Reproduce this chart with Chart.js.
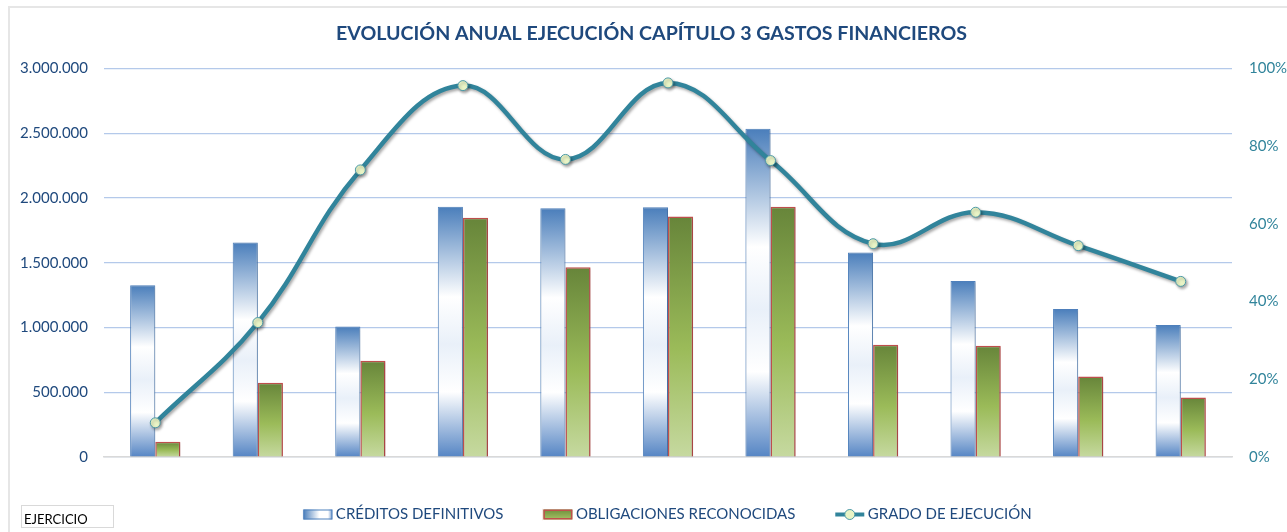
<!DOCTYPE html>
<html lang="es">
<head>
<meta charset="utf-8">
<title>Evolución anual ejecución capítulo 3 gastos financieros</title>
<script src="https://cdn.jsdelivr.net/npm/chart.js@4.4.1/dist/chart.umd.min.js"></script>
<style>
  html, body { margin: 0; padding: 0; background: #fff; }
  #wrap { position: relative; width: 1287px; height: 532px; }
  #frame {
    position: absolute; left: 8px; top: 6px; right: 0; bottom: 0;
    border-left: 2px solid #e6e6e6; border-top: 2px solid #e6e6e6;
    pointer-events: none;
  }
  #ejercicio {
    position: absolute; left: 21px; top: 505px; width: 89px; height: 21px;
    border: 1px solid #d9d9d9; padding-left: 2px;
    font: 13px Lato, "Open Sans", sans-serif; line-height: 26px; color: #000;
  }
</style>
</head>
<body>
<div id="wrap">
  <canvas id="chart"></canvas>
  <div id="frame"></div>
  <div id="ejercicio">EJERCICIO</div>
</div>
<script>
// data
const years = ["2009", "2010", "2011", "2012", "2013", "2014", "2015", "2016", "2017", "2018", "2019"];
const creditosDefinitivos = [1327000, 1657000, 1007000, 1933000, 1920000, 1928000, 2534000, 1580000, 1360000, 1143000, 1020000];
const obligacionesReconocidas = [117000, 573000, 744000, 1847000, 1465000, 1857000, 1933000, 867000, 859000, 621000, 460000];
const gradoEjecucion = [8.8, 34.6, 73.9, 95.6, 76.6, 96.3, 76.3, 54.9, 63.0, 54.4, 45.2];

const importeMax = 3000000;
const importeStep = 500000;
const porcentajeMax = 100;
const porcentajeStep = 20;

const NAVY = "#1f497d";
const TEAL = "#31849b";
const FONT = "Lato, 'Open Sans', sans-serif";
const SWATCH_W = 29;

const blueStops = [[0, "#4a7ebb"], [0.36, "#ffffff"], [0.55, "#e9f0f9"], [0.74, "#ffffff"], [1, "#5585c4"]];
const greenStops = [[0, "#67853a"], [0.55, "#9bbb59"], [1, "#c6d9a0"]];

function barGradient(stops, fallback) {
    return (context) => {
        const chart = context.chart;
        const { chartArea, scales } = chart;
        if (!chartArea || context.type !== "data" || !scales.y) return fallback;
        const top = scales.y.getPixelForValue(context.raw);
        const bottom = scales.y.getPixelForValue(0);
        if (!isFinite(top) || bottom - top < 1) return fallback;
        const g = chart.ctx.createLinearGradient(0, top, 0, bottom);
        stops.forEach(([offset, color]) => g.addColorStop(offset, color));
        return g;
    };
}

function formatMiles(value) {
    return String(value).replace(/\B(?=(\d{3})+(?!\d))/g, ".");
}

// soft shadow under the line, like the spreadsheet original
const lineShadow = {
    id: "lineShadow",
    beforeDatasetDraw(chart, args) {
        const ctx = chart.ctx;
        ctx.save();
        if (args.meta.type === "line") {
            ctx.shadowColor = "rgba(0, 0, 0, 0.35)";
            ctx.shadowBlur = 3;
            ctx.shadowOffsetX = 1.5;
            ctx.shadowOffsetY = 2;
        } else {
            ctx.shadowColor = "rgba(0, 0, 0, 0.18)";
            ctx.shadowBlur = 2;
            ctx.shadowOffsetX = 1;
            ctx.shadowOffsetY = 1;
        }
    },
    afterDatasetDraw(chart) {
        chart.ctx.restore();
    },
};

// title and legend sit a bit right of centre in the original
const nudgeBlocks = {
    id: "nudgeBlocks",
    afterLayout(chart) {
        if (chart.titleBlock) {
            chart.titleBlock.left += 8;
            chart.titleBlock.right += 8;
        }
        if (chart.legend) {
            chart.legend.left += 24;
            chart.legend.right += 24;
        }
    },
};

// legend swatches: gradient boxes and the line marker with its dot
const legendSwatches = {
    id: "legendSwatches",
    afterDraw(chart) {
        const legend = chart.legend;
        if (!legend || !legend.legendHitBoxes) return;
        const ctx = chart.ctx;
        legend.legendItems.forEach((item, i) => {
            const hb = legend.legendHitBoxes[i];
            if (!hb) return;
            const x = hb.left;
            const cy = hb.top + hb.height / 2;
            ctx.save();
            ctx.fillStyle = "#ffffff";
            ctx.fillRect(x - 1, cy - 7, SWATCH_W + 1, 14);
            if (item.datasetIndex === 0) {
                const g = ctx.createLinearGradient(x, 0, x + SWATCH_W, 0);
                g.addColorStop(0, "#4a7ebb");
                g.addColorStop(0.55, "#ffffff");
                g.addColorStop(0.85, "#ffffff");
                g.addColorStop(1, "#6f97cd");
                ctx.fillStyle = g;
                ctx.fillRect(x, cy - 5, SWATCH_W, 10);
                ctx.strokeStyle = "#4f81bd";
                ctx.lineWidth = 1;
                ctx.strokeRect(x + 0.5, cy - 4.5, SWATCH_W - 1, 9);
            } else if (item.datasetIndex === 1) {
                const g = ctx.createLinearGradient(0, cy - 5, 0, cy + 5);
                g.addColorStop(0, "#6f8f3c");
                g.addColorStop(1, "#a4c264");
                ctx.fillStyle = g;
                ctx.fillRect(x, cy - 5, SWATCH_W, 10);
                ctx.strokeStyle = "#c0504d";
                ctx.lineWidth = 1.5;
                ctx.strokeRect(x + 0.75, cy - 4.25, SWATCH_W - 1.5, 8.5);
            } else {
                ctx.beginPath();
                ctx.moveTo(x, cy);
                ctx.lineTo(x + SWATCH_W, cy);
                ctx.strokeStyle = TEAL;
                ctx.lineWidth = 4;
                ctx.stroke();
                ctx.beginPath();
                ctx.arc(x + SWATCH_W / 2, cy, 5, 0, Math.PI * 2);
                ctx.fillStyle = "#e9f4c6";
                ctx.fill();
                ctx.strokeStyle = "#4c9aa8";
                ctx.lineWidth = 1;
                ctx.stroke();
            }
            ctx.restore();
        });
    },
};

const ctx = document.getElementById("chart").getContext("2d");
new Chart(ctx, {
    type: "bar",
    data: {
        labels: years,
        datasets: [
            {
                label: "CRÉDITOS DEFINITIVOS",
                data: creditosDefinitivos,
                backgroundColor: barGradient(blueStops, "#a9c1e4"),
                borderColor: "#4f81bd",
                borderWidth: 1,
                pointStyle: "rect",
                yAxisID: "y",
                order: 1,
            },
            {
                label: "OBLIGACIONES RECONOCIDAS",
                data: obligacionesReconocidas,
                backgroundColor: barGradient(greenStops, "#8cad4f"),
                borderColor: "#c0504d",
                borderWidth: 1.5,
                pointStyle: "rect",
                yAxisID: "y",
                order: 1,
            },
            {
                type: "line",
                label: "GRADO DE EJECUCIÓN",
                data: gradoEjecucion,
                borderColor: TEAL,
                backgroundColor: TEAL,
                borderWidth: 4.5,
                tension: 0.4,
                pointRadius: 5,
                pointBackgroundColor: "#e9f4c6",
                pointBorderColor: "#4c9aa8",
                pointBorderWidth: 1,
                yAxisID: "y1",
                order: 0,
            },
        ],
    },
    options: {
        responsive: true,
        maintainAspectRatio: false,
        animation: false,
        layout: {
            padding: { left: 0, right: 0, top: 0, bottom: 0 },
        },
        datasets: {
            bar: {
                categoryPercentage: 0.49,
                barPercentage: 1.0,
            },
        },
        plugins: {
            title: {
                display: true,
                text: "EVOLUCIÓN ANUAL EJECUCIÓN CAPÍTULO 3 GASTOS FINANCIEROS",
                color: NAVY,
                font: { family: FONT, size: 19.6, weight: "bold" },
                padding: { top: 22, bottom: 23 },
            },
            legend: {
                position: "bottom",
                labels: {
                    usePointStyle: true,
                    pointStyleWidth: SWATCH_W - 4,
                    boxHeight: 10,
                    padding: 40,
                    color: NAVY,
                    font: { family: FONT, size: 15 },
                    sort: (a, b) => a.datasetIndex - b.datasetIndex,
                    generateLabels: (chart) => {
                        const items = Chart.defaults.plugins.legend.labels.generateLabels(chart);
                        items.forEach((item) => {
                            if (item.datasetIndex === 2) {
                                item.pointStyle = "line";
                                item.lineWidth = 0;
                            }
                        });
                        return items;
                    },
                },
            },
            tooltip: { enabled: false },
        },
        scales: {
            x: {
                grid: { display: false, drawTicks: false },
                border: { color: "#d9d9d9", width: 1.5 },
                ticks: {
                    color: NAVY,
                    padding: 13,
                    font: { family: FONT, size: 15 },
                },
                afterFit: (scale) => {
                    scale.height = 10;
                },
            },
            y: {
                position: "left",
                min: 0,
                max: importeMax,
                grid: { color: "#b4c9ea", lineWidth: 1.2, drawTicks: false },
                border: { display: false },
                ticks: {
                    stepSize: importeStep,
                    padding: 16,
                    color: NAVY,
                    font: { family: FONT, size: 15 },
                    callback: (value) => formatMiles(value),
                },
                afterFit: (scale) => {
                    scale.width = 104;
                },
            },
            y1: {
                position: "right",
                min: 0,
                max: porcentajeMax,
                grid: { display: false, drawTicks: false },
                border: { display: false },
                ticks: {
                    stepSize: porcentajeStep,
                    padding: 17,
                    color: TEAL,
                    font: { family: FONT, size: 15 },
                    callback: (value) => value + "%",
                },
                afterFit: (scale) => {
                    scale.width = 55;
                },
            },
        },
    },
    plugins: [lineShadow, nudgeBlocks, legendSwatches],
});
</script>
</body>
</html>
